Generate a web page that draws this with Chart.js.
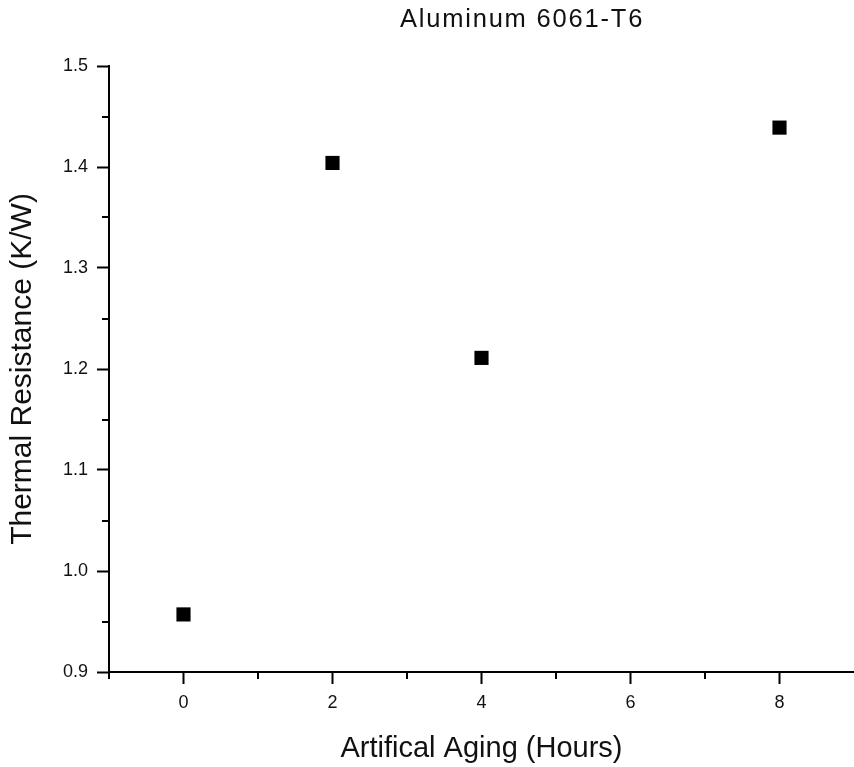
<!DOCTYPE html>
<html>
<head>
<meta charset="utf-8">
<script src="https://cdn.jsdelivr.net/npm/chart.js@4/dist/chart.umd.min.js"></script>
<style>
  html, body { margin: 0; padding: 0; background: #fff; overflow: hidden; }
  #wrap { width: 854px; height: 767px; }
</style>
</head>
<body>
<div id="wrap"><canvas id="chart"></canvas></div>
<script>
const agingHours = [0, 2, 4, 8]
const resistance = [0.957, 1.404, 1.211, 1.439]
const xMajorTicks = [0, 2, 4, 6, 8]
const xMinorTicks = [-1, 1, 3, 5, 7]
const yMajorTicks = [0.9, 1.0, 1.1, 1.2, 1.3, 1.4, 1.5]
const yMinorTicks = [0.95, 1.05, 1.15, 1.25, 1.35, 1.45]
const chartTitle = 'Aluminum 6061-T6'

const ink = '#111'
const family = '"Liberation Sans", Arial, sans-serif'

// Origin-style short minor ticks, placed through the scales
const minorTicks = {
  id: 'minorTicks',
  afterDraw(chart) {
    const { ctx, scales: { x, y } } = chart
    ctx.save()
    ctx.strokeStyle = '#000'
    ctx.lineWidth = 2
    ctx.beginPath()
    xMinorTicks.forEach(v => {
      const px = Math.round(x.getPixelForValue(v))
      ctx.moveTo(px, x.top)
      ctx.lineTo(px, x.top + 7)
    })
    yMinorTicks.forEach(v => {
      const py = Math.round(y.getPixelForValue(v))
      ctx.moveTo(y.right, py)
      ctx.lineTo(y.right - 7, py)
    })
    ctx.stroke()
    ctx.restore()
  }
}

const titleText = {
  id: 'titleText',
  afterDraw(chart) {
    const { ctx } = chart
    ctx.save()
    ctx.fillStyle = ink
    ctx.font = '25.5px ' + family
    ctx.letterSpacing = '1.8px'
    ctx.textAlign = 'center'
    ctx.textBaseline = 'middle'
    ctx.fillText(chartTitle, 522, 20)
    ctx.restore()
  }
}

new Chart(document.querySelector('#chart'), {
  type: 'scatter',
  data: {
    datasets: [{
      label: 'Thermal Resistance',
      data: agingHours.map((h, i) => ({ x: h, y: resistance[i] })),
      pointStyle: 'rect',
      pointRadius: 10,
      pointHoverRadius: 10,
      backgroundColor: '#000',
      borderColor: '#000',
      borderWidth: 0
    }]
  },
  options: {
    responsive: true,
    maintainAspectRatio: false,
    animation: false,
    layout: { autoPadding: false, padding: { top: 66, right: 0, left: 0, bottom: 0 } },
    plugins: {
      legend: { display: false },
      tooltip: { enabled: false }
    },
    scales: {
      x: {
        type: 'linear',
        min: -1,
        max: 9,
        afterBuildTicks: s => { s.ticks = xMajorTicks.map(v => ({ value: v })) },
        afterFit: s => {
          s.height = 95
          s.paddingLeft = 0
          s.paddingRight = 0
        },
        border: { display: true, color: '#000', width: 2 },
        grid: { drawOnChartArea: false, drawTicks: true, tickLength: 12, tickWidth: 2, tickColor: '#000' },
        ticks: {
          color: ink,
          padding: 8,
          maxRotation: 0,
          font: { family, size: 18 }
        },
        title: {
          display: true,
          text: 'Artifical Aging (Hours)',
          color: ink,
          padding: { top: 0, bottom: 1 },
          font: { family, size: 29 }
        }
      },
      y: {
        min: 0.9,
        max: 1.5,
        afterBuildTicks: s => { s.ticks = yMajorTicks.map(v => ({ value: v })) },
        afterFit: s => {
          s.width = 109
          s.paddingTop = 0
          s.paddingBottom = 0
        },
        border: { display: true, color: '#000', width: 2 },
        grid: { drawOnChartArea: false, drawTicks: true, tickLength: 12, tickWidth: 2, tickColor: '#000' },
        ticks: {
          color: ink,
          padding: 9,
          callback: v => v.toFixed(1),
          font: { family, size: 18 }
        },
        title: {
          display: true,
          text: 'Thermal Resistance (K/W)',
          color: ink,
          padding: { top: 5, bottom: 0 },
          font: { family, size: 30 }
        }
      }
    }
  },
  plugins: [minorTicks, titleText]
})
</script>
</body>
</html>
